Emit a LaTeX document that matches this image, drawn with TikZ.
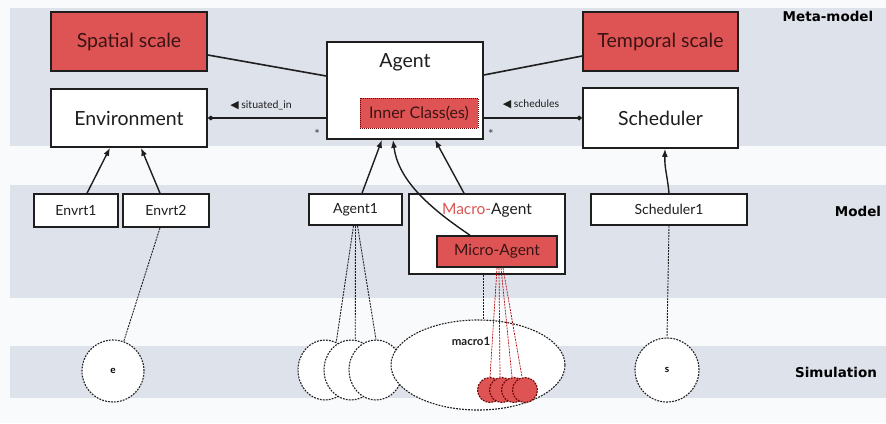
\documentclass[tikz,border=0pt]{standalone}
\usepackage{fontspec}
\setmainfont{Lato}
\newfontfamily\symfont{DejaVu Sans}
\newfontfamily\headfont{DejaVu Sans}
\usetikzlibrary{arrows.meta,calc,shapes.geometric}

\definecolor{band}{HTML}{DDE2EB}
\definecolor{paper}{HTML}{F8FAFC}
\definecolor{scalered}{HTML}{DE5454}
\definecolor{ink}{HTML}{1E1E1E}
\definecolor{redink}{HTML}{3A1414}

\begin{document}
\begin{tikzpicture}[x=1pt,y=-1pt,
  box/.style={draw=ink, line width=1.6pt, fill=white, inner sep=0pt, text=ink},
  redbox/.style={box, fill=scalered, text=redink},
  big/.style={font=\fontsize{19.5}{19.5}\selectfont},
  mid/.style={font=\fontsize{15.5}{15.5}\selectfont},
  small/.style={font=\fontsize{14}{14}\selectfont},
  inst/.style={draw=ink, line width=1.1pt, dash pattern=on 1.8pt off 1.2pt, fill=white, ellipse, inner sep=0pt},
  redinst/.style={inst, draw=red!40!black, fill=scalered, circle, minimum size=25pt},
  link/.style={draw=ink, line width=0.9pt, dash pattern=on 2pt off 1pt},
  redlink/.style={draw=red!70!black, line width=0.7pt, dash pattern=on 2pt off 1pt},
  isa/.style={draw=ink, line width=1.4pt, -{Latex[length=8pt,width=6pt]}},
  assoc/.style={draw=ink, line width=1.6pt, -{Diamond[length=6pt,width=5pt]}},
  plainline/.style={draw=ink, line width=1.6pt},
  level/.style={font=\headfont\bfseries\fontsize{13.5}{13.5}\selectfont, text=black}]

% background and the three level bands
\fill[paper] (0,0) rectangle (886,423);
\useasboundingbox (0,0) rectangle (886,423);
\fill[band] (10,8) rectangle (886,146);
\fill[band] (10,185) rectangle (886,298);
\fill[band] (10,346) rectangle (886,398);

% level labels
\node[level] (lmeta) at (828,16) {Meta-model};
\node[level] (lmodel) at (858,211) {Model};
\node[level] (lsim) at (836,372) {Simulation};

% meta-model
\node[redbox, big, minimum width=156pt, minimum height=59pt] (spatial) at (129,41.5) {Spatial scale};
\node[box, big, minimum width=156pt, minimum height=58pt] (env) at (129,118) {Environment};
\node[box, minimum width=156pt, minimum height=97pt] (agent) at (405,90.5) {};
\node[big, text=ink] (agentlbl) at (405,62) {Agent};
\node[box, fill=scalered, draw=red!40!black, text=redink, line width=1pt, dash pattern=on 1pt off 1pt,
      font=\fontsize{16}{16}\selectfont, minimum width=118pt, minimum height=30pt] (inner) at (419,113) {Inner Class(es)};
\node[redbox, big, minimum width=155pt, minimum height=59pt] (temporal) at (660.5,41.5) {Temporal scale};
\node[box, big, minimum width=155pt, minimum height=60pt] (sched) at (660.5,118) {Scheduler};

\draw[plainline] ($(spatial.east)+(0,13.5)$) -- ($(agent.west)+(0,-14.5)$);
\draw[plainline] ($(agent.east)+(0,-15.5)$) -- ($(temporal.west)+(0,14.5)$);

\draw[assoc] (agent.west |- env.east) -- (env.east);
\draw[assoc] (agent.east |- sched.west) -- (sched.west);
\node[text=ink] (sitlbl) at (261,105) {{\symfont\fontsize{11}{11}\selectfont ◀}\ {\fontsize{10.5}{10.5}\selectfont situated\_in}};
\node[text=ink] (schlbl) at (531,104) {{\symfont\fontsize{11}{11}\selectfont ◀}\ {\fontsize{10.5}{10.5}\selectfont schedules}};
\node[text=ink!75, font=\bfseries\fontsize{12}{12}\selectfont] (star1) at ($(agent.south west)+(-9,-6)$) {*};
\node[text=ink!75, font=\bfseries\fontsize{12}{12}\selectfont] (star2) at ($(agent.south east)+(7,-6)$) {*};

% model
\node[box, small, minimum width=84pt, minimum height=33pt] (envrt1) at (76,210.5) {Envrt1};
\node[box, small, minimum width=86pt, minimum height=33pt] (envrt2) at (166,210.5) {Envrt2};
\node[box, small, minimum width=93pt, minimum height=31pt] (agent1) at (355.5,209.5) {Agent1};
\node[box, minimum width=156pt, minimum height=80pt] (macro) at (487,234) {};
\node[mid, text=ink] (macrolbl) at (487,210) {\textcolor{scalered}{Macro-}Agent};
\node[redbox, mid, minimum width=120pt, minimum height=31pt] (micro) at (497,251.5) {Micro-Agent};
\node[box, small, minimum width=156pt, minimum height=31pt] (sched1) at (669,209.5) {Scheduler1};

\draw[isa] ($(envrt1.north)+(11,0)$) -- ($(env.south)+(-19,0)$);
\draw[isa] ($(envrt2.north)+(-6,0)$) -- ($(env.south)+(12,0)$);
\draw[isa] ($(agent1.north)+(6.5,0)$) -- ($(agent.south)+(-23,0)$);
\draw[isa] ($(micro.north)+(-27,0)$) .. controls (425,205) and (398,178) .. ($(agent.south)+(-12,0)$);
\draw[isa] ($(macro.north)+(-23,0)$) -- ($(agent.south)+(30,0)$);
\draw[isa] (sched1.north) .. controls ($(sched1.north)+(-2,-20)$) and ($(sched.south)+(4,20)$) .. ($(sched.south)+(4.5,0)$);

% simulation
\node[inst, circle, minimum size=62pt, font=\bfseries\fontsize{10}{10}\selectfont] (e) at (113,371) {e};
\node[inst, minimum width=54pt, minimum height=60pt] (ai1) at (325,370) {};
\node[inst, minimum width=54pt, minimum height=60pt] (ai2) at (351,370) {};
\node[inst, minimum width=54pt, minimum height=60pt] (ai3) at (376,370) {};
\node[inst, minimum width=174pt, minimum height=90pt] (mac1) at (478,365) {};
\node[font=\bfseries\fontsize{11.5}{11.5}\selectfont, text=ink] (mac1lbl) at (471,341) {macro1};
\node[inst, circle, minimum size=64pt, font=\bfseries\fontsize{10}{10}\selectfont] (s) at (667,370) {s};

\draw[link] ($(envrt2.south)+(-6,0)$) -- (e.70);
\draw[link] ($(agent1.south)+(-2,0)$) -- (ai1.68);
\draw[link] ($(agent1.south)+(0,0)$) -- (ai2.82);
\draw[link] ($(agent1.south)+(2,0)$) -- (ai3.north);
\draw[link] ($(macro.south)+(-4,0)$) -- ($(mac1.north)+(5,0)$);
\draw[link] (sched1.south) -- (s.north);

\node[redinst] (m1) at (490,390) {};
\node[redinst] (m2) at (502,390) {};
\node[redinst] (m3) at (514,390) {};
\node[redinst] (m4) at (525,390) {};
\draw[redlink] ($(micro.south)+(0,0)$) -- (m1.north);
\draw[redlink] ($(micro.south)+(2,0)$) -- ($(m2.north)+(-2,0)$);
\draw[redlink] ($(micro.south)+(4,0)$) -- ($(m3.north)+(-2,0)$);
\draw[redlink] ($(micro.south)+(6,0)$) -- ($(m4.north)+(-3,0)$);
\end{tikzpicture}
\end{document}
